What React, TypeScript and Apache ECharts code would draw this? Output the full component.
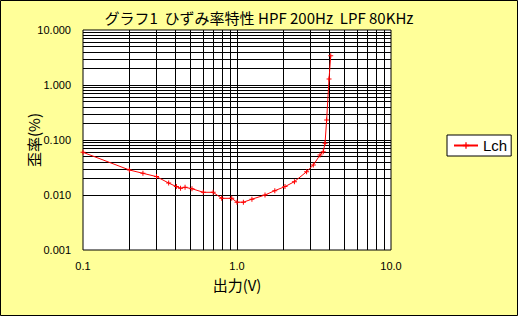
import React, { useEffect, useRef } from "react";
import * as echarts from "echarts";

const titleText = "グラフ1  ひずみ率特性 HPF 200Hz  LPF 80KHz";
const seriesName = "Lch";
const outputV = [0.1, 0.2, 0.245, 0.3, 0.36, 0.404, 0.43, 0.46, 0.51, 0.604, 0.7, 0.795, 0.924, 1.0, 1.1, 1.25, 1.52, 1.76, 2.05, 2.36, 2.83, 3.13, 3.46, 3.63, 3.73, 3.82, 3.96, 4.06];
const distortion = [0.0597, 0.0285, 0.0248, 0.0216, 0.0165, 0.0142, 0.0133, 0.0138, 0.013, 0.0112, 0.0112, 0.0087, 0.0087, 0.0074, 0.0074, 0.0084, 0.01, 0.012, 0.0142, 0.0175, 0.0265, 0.0351, 0.0534, 0.0613, 0.087, 0.231, 1.29, 3.41];
const xGridValues = [0.2, 0.3, 0.4, 0.5, 0.6, 0.7, 0.8, 0.9, 1, 2, 3, 4, 5, 6, 7, 8, 9];
const yGridValues = [
  0.002, 0.003, 0.004, 0.005, 0.006, 0.007, 0.008, 0.009, 0.01,
  0.02, 0.03, 0.04, 0.05, 0.06, 0.07, 0.08, 0.09, 0.1,
  0.2, 0.3, 0.4, 0.5, 0.6, 0.7, 0.8, 0.9, 1,
  2, 3, 4, 5, 6, 7, 8, 9,
];

const plusSymbol = "path://M4,0L6,0L6,4L10,4L10,6L6,6L6,10L4,10L4,6L0,6L0,4L4,4Z";

export default function App() {
  const ref = useRef<HTMLDivElement>(null);
  useEffect(() => {
    if (!ref.current) return;
    const chart = echarts.init(ref.current, undefined, { renderer: "svg" });
    const latin = "'Liberation Sans', Arial, sans-serif";
    const jp = "'Noto Sans CJK JP', sans-serif";
    chart.setOption({
      animation: false,
      backgroundColor: "#FFFF99",
      title: {
        text: titleText,
        left: "center",
        top: 5,
        textStyle: { fontFamily: jp, fontSize: 15, fontWeight: "normal", color: "#000" },
      },
      legend: {
        data: [seriesName],
        left: 447,
        top: 135,
        orient: "vertical",
        backgroundColor: "#fff",
        borderColor: "#000",
        borderWidth: 1,
        borderRadius: 0,
        padding: [3, 4, 3, 6],
        itemWidth: 24,
        itemHeight: 8,
        itemGap: 0,
        textStyle: { fontFamily: latin, fontSize: 15, color: "#000" },
      },
      grid: {
        left: 83,
        top: 30,
        width: 308,
        height: 220,
        show: true,
        backgroundColor: "#fff",
        borderColor: "#000",
        borderWidth: 1,
      },
      xAxis: {
        type: "log",
        logBase: 10,
        min: 0.1,
        max: 10,
        name: "出力(V)",
        nameLocation: "middle",
        nameGap: 27,
        nameTextStyle: { fontFamily: jp, fontSize: 15, color: "#000" },
        axisLine: { show: false },
        axisTick: { show: false },
        splitLine: { show: false },
        minorSplitLine: { show: false },
        axisLabel: {
          margin: 10,
          fontFamily: latin,
          fontSize: 11,
          color: "#000",
          formatter: (v: number) => Number(v).toFixed(1),
        },
      },
      yAxis: {
        type: "log",
        logBase: 10,
        min: 0.001,
        max: 10,
        name: "歪率(%)",
        nameLocation: "middle",
        nameRotate: 90,
        nameGap: 42,
        nameMoveOverlap: false,
        nameTextStyle: { fontFamily: jp, fontSize: 15, color: "#000" },
        axisLine: { show: false },
        axisTick: { show: false },
        splitLine: { show: false },
        axisLabel: {
          margin: 12,
          fontFamily: latin,
          fontSize: 11,
          color: "#000",
          formatter: (v: number) => Number(v).toFixed(3),
        },
      },
      graphic: [
        {
          type: "rect",
          shape: { x: 0.5, y: 0.5, width: 517, height: 315 },
          style: { fill: "none", stroke: "#000", lineWidth: 1 },
          silent: true,
          z: 100,
        },
      ],
      series: [
        {
          name: "grid",
          type: "line",
          data: [],
          z: 1,
          silent: true,
          markLine: {
            silent: true,
            symbol: ["none", "none"],
            label: { show: false },
            lineStyle: { color: "#000", width: 1, type: "solid" },
            data: [
              ...xGridValues.map((v) => ({ xAxis: v })),
              ...yGridValues.map((v) => ({ yAxis: v })),
            ],
          },
        },
        {
          name: seriesName,
          type: "line",
          z: 5,
          data: outputV.map((v, i) => [v, distortion[i]]),
          symbol: plusSymbol,
          symbolSize: 5,
          showAllSymbol: true,
          itemStyle: { color: "#FF0000" },
          lineStyle: { color: "#FF0000", width: 1 },
        },
      ],
    });
    return () => chart.dispose();
  }, []);
  return (
    <div
      ref={ref}
      style={{ position: "fixed", left: 0, top: 0, width: 518, height: 316 }}
    />
  );
}
